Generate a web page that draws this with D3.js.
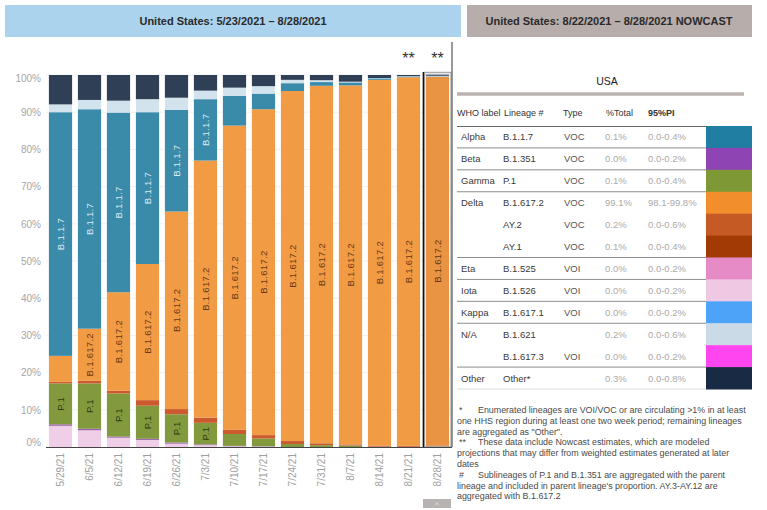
<!DOCTYPE html>
<html>
<head>
<meta charset="utf-8">
<script src="https://cdn.jsdelivr.net/npm/d3@7"></script>
<style>
  body { margin: 0; background: #fff; }
  text { font-family: "Liberation Sans", Arial, sans-serif; }
</style>
</head>
<body>
<div id="chart"></div>
<script>
// variant proportions, weekly, US

var width = 767;
var height = 510;

var weeks = ["5/29/21","6/5/21","6/12/21","6/19/21","6/26/21","7/3/21","7/10/21",
             "7/17/21","7/24/21","7/31/21","8/7/21","8/14/21","8/21/21","8/28/21"];

// % of sequences per week (bottom of stack first)
var iota   = [5.7, 4.5, 2.5, 1.9, 0.9, 0.5, 0.2, 0.1, 0.0, 0.0, 0.0, 0.0, 0.0, 0.0];
var beta   = [0.4, 0.4, 0.3, 0.3, 0.3, 0.2, 0.1, 0.1, 0.0, 0.0, 0.0, 0.0, 0.0, 0.0];
var gamma  = [11.0, 12.2, 11.6, 8.9, 7.6, 5.8, 3.2, 2.1, 0.8, 0.5, 0.4, 0.1, 0.05, 0.1];
var ay     = [0.4, 0.7, 0.7, 1.5, 1.4, 1.4, 1.1, 0.9, 0.8, 0.5, 0.3, 0.3, 0.25, 0.3];
var delta  = [7.0, 14.0, 26.5, 36.6, 53.1, 69.1, 81.8, 87.6, 94.1, 96.1, 96.5, 98.3, 99.1, 99.1];
var alpha  = [65.5, 59.0, 48.3, 40.8, 27.3, 16.5, 8.0, 4.2, 2.1, 1.0, 0.8, 0.4, 0.2, 0.1];
var b1621  = [2.1, 2.5, 3.2, 3.5, 3.3, 2.3, 2.2, 2.0, 0.9, 0.5, 0.2, 0.1, 0.1, 0.2];
var other  = [7.9, 6.7, 6.9, 6.5, 6.1, 4.2, 3.4, 3.0, 1.3, 1.4, 1.8, 0.8, 0.3, 0.3];

var yTicks = [0,10,20,30,40,50,60,70,80,90,100];

// table on the right (nowcast)
var whoLabels = ["Alpha","Beta","Gamma","Delta","","","Eta","Iota","Kappa","N/A","","Other"];
var lineages  = ["B.1.1.7","B.1.351","P.1","B.1.617.2","AY.2","AY.1","B.1.525","B.1.526",
                 "B.1.617.1","B.1.621","B.1.617.3","Other*"];
var types     = ["VOC","VOC","VOC","VOC","VOC","VOC","VOI","VOI","VOI","","VOI",""];
var pctTotal  = ["0.1%","0.0%","0.1%","99.1%","0.2%","0.1%","0.0%","0.0%","0.0%","0.2%","0.0%","0.3%"];
var pi95      = ["0.0-0.4%","0.0-0.2%","0.0-0.4%","98.1-99.8%","0.0-0.6%","0.0-0.4%","0.0-0.2%",
                 "0.0-0.2%","0.0-0.2%","0.0-0.6%","0.0-0.2%","0.0-0.8%"];
var swatches  = ["#1f7ea1","#8e45b3","#7d9834","#f28e2b","#c65a24","#a23a06","#e68bc5",
                 "#efc8e4","#4da3f7","#cadbe7","#ff45ef","#192b44"];
var groupEnds = [0,1,2,5,6,7,8,10,11];

var footnotes = [
  ["*", "Enumerated lineages are VOI/VOC or are circulating >1% in at least"],
  ["", "one HHS region during at least one two week period; remaining lineages"],
  ["", "are aggregated as \"Other\"."],
  ["**", "These data include Nowcast estimates, which are modeled"],
  ["", "projections that may differ from weighted estimates generated at later"],
  ["", "dates"],
  ["#", "Sublineages of P.1 and B.1.351 are aggregated with the parent"],
  ["", "lineage and included in parent lineage's proportion. AY.3-AY.12 are"],
  ["", "aggregated with B.1.617.2"]
];

var keys = ["Iota","Beta","Gamma","AY","Delta","Alpha","B.1.621","Other"];
var barColor = {"Iota":"#f0cee7","Beta":"#9a5fae","Gamma":"#82993d","AY":"#cb5a2f",
                "Delta":"#f29b45","Alpha":"#3a8ba9","B.1.621":"#d3e3ee","Other":"#2e3f56"};
var barLabel = {"Alpha":"B.1.1.7","Delta":"B.1.617.2","Gamma":"P.1"};
var labelColor = {"Alpha":"#dbeaf2","Delta":"#6a3a12","Gamma":"#2e3a12"};

var rows = weeks.map((w,i) => ({week:w, "Iota":iota[i], "Beta":beta[i], "Gamma":gamma[i],
  "AY":ay[i], "Delta":delta[i], "Alpha":alpha[i], "B.1.621":b1621[i], "Other":other[i]}));
var series = d3.stack().keys(keys)(rows);

var svg = d3.select("div#chart")
    .append("svg")
    .attr("width", width)
    .attr("height", height);

// header bands
svg.append("rect").attr("x",5).attr("y",5).attr("width",456).attr("height",32).attr("fill","#abd3ee");
svg.append("rect").attr("x",467).attr("y",5).attr("width",285).attr("height",32).attr("fill","#b7adaa");
svg.append("text").attr("x",233).attr("y",25).attr("text-anchor","middle")
    .attr("font-size",11).attr("font-weight","bold").attr("fill","#2a2a2a")
    .text("United States: 5/23/2021 \u2013 8/28/2021");
svg.append("text").attr("x",609).attr("y",25).attr("text-anchor","middle")
    .attr("font-size",11).attr("font-weight","bold").attr("fill","#2a2a2a")
    .text("United States: 8/22/2021 \u2013 8/28/2021 NOWCAST");

var x = d3.scaleBand().domain(weeks).range([46, 452]).paddingInner(0.2).paddingOuter(0.1);
var y = d3.scaleLinear().domain([0, 100]).range([447, 75]);

// faint gridlines
svg.append("g").selectAll("line").data(yTicks.slice(1)).enter().append("line")
    .attr("x1", 46).attr("x2", 452)
    .attr("y1", d => y(d)).attr("y2", d => y(d))
    .attr("stroke", "#f1f1f1");

// y axis
var yAxis = svg.append("g").attr("transform", "translate(46,0)")
    .call(d3.axisLeft(y).tickValues(yTicks).tickSize(0).tickPadding(5).tickFormat(d => d + "%"));
yAxis.select(".domain").remove();
yAxis.selectAll("text").attr("font-size", 10).attr("fill", "#a6a6a6")
    .attr("font-family", "Liberation Sans, Arial, sans-serif")
    .attr("dy", d => d == 0 ? "-0.15em" : (d == 100 ? "0.62em" : "0.32em"));

// stacked bars
var layers = svg.append("g").selectAll("g").data(series).enter().append("g")
    .attr("fill", d => barColor[d.key]);
layers.selectAll("rect").data(d => d).enter().append("rect")
    .attr("x", d => x(d.data.week))
    .attr("width", x.bandwidth())
    .attr("y", d => y(d[1]))
    .attr("height", d => Math.max(0, y(d[0]) - y(d[1])));

// segment labels, only where they fit
series.filter(s => barLabel[s.key]).forEach(function(s) {
  s.forEach(function(d) {
    var h = y(d[0]) - y(d[1]);
    var cx = x(d.data.week) + x.bandwidth()/2;
    var cy = (y(d[0]) + y(d[1]))/2;
    var t = svg.append("text")
        .attr("transform", "translate(" + cx + "," + cy + ") rotate(-90)")
        .attr("text-anchor", "middle").attr("dominant-baseline", "central")
        .attr("font-size", 9.5).attr("fill", labelColor[s.key])
        .attr("letter-spacing", 0.3)
        .text(barLabel[s.key]);
    if (t.node().getComputedTextLength() + 6 > h) t.remove();
  });
});

// nowcast column
var lastX = x(weeks[weeks.length-1]);
svg.append("rect").attr("x", lastX).attr("y", y(100)).attr("width", x.bandwidth())
    .attr("height", y(0) - y(100)).attr("fill", "#000").attr("opacity", 0.04);
svg.append("rect").attr("x", lastX - 1.5).attr("y", 72.5).attr("width", x.bandwidth() + 3.5)
    .attr("height", 374.5).attr("fill", "none").attr("stroke", "#a9a9a9").attr("stroke-width", 1.5);
svg.append("line").attr("x1", lastX - 2.5).attr("x2", lastX - 2.5).attr("y1", 72).attr("y2", 448)
    .attr("stroke", "#111").attr("stroke-width", 1.5);

// ** marks over nowcast-based weeks
svg.selectAll(".star").data(weeks.slice(-2)).enter().append("text")
    .attr("x", d => x(d) + x.bandwidth()/2).attr("y", 64)
    .attr("text-anchor", "middle").attr("font-size", 16).attr("fill", "#333")
    .text("**");

// x axis
var xAxis = svg.append("g").attr("transform", "translate(0,447)")
    .call(d3.axisBottom(x).tickSize(0).tickPadding(0));
xAxis.select(".domain").attr("stroke", "#444").attr("d", "M46,0.5H452");
xAxis.selectAll("text").attr("font-size", 10).attr("fill", "#a0a0a0")
    .attr("font-family", "Liberation Sans, Arial, sans-serif")
    .attr("transform", "translate(0,6) rotate(-90)")
    .attr("text-anchor", "end").attr("dy", "0.35em").attr("y", 0).attr("x", 0);

// small scroll tab
svg.append("rect").attr("x", 423).attr("y", 499).attr("width", 28).attr("height", 9).attr("fill", "#b8b3b3");
svg.append("text").attr("x", 437).attr("y", 507).attr("text-anchor", "middle")
    .attr("font-size", 8).attr("fill", "#eee").text("^");

// panel divider
svg.append("line").attr("x1", 452).attr("x2", 452).attr("y1", 42).attr("y2", 447)
    .attr("stroke", "#777").attr("stroke-width", 1.5);

// table
var tbl = svg.append("g");
tbl.append("text").attr("x", 607).attr("y", 85).attr("text-anchor", "middle")
    .attr("font-size", 10.5).attr("fill", "#222").text("USA");
tbl.append("line").attr("x1", 457).attr("x2", 744).attr("y1", 94).attr("y2", 94)
    .attr("stroke", "#bab3b0").attr("stroke-width", 3.5);

var cols = [457, 504, 563, 606, 648];
["WHO label","Lineage #","Type","%Total","95%PI"].forEach(function(h, i) {
  tbl.append("text").attr("x", cols[i]).attr("y", 116)
      .attr("font-size", 9).attr("fill", "#333")
      .attr("font-weight", i == 4 ? "bold" : "normal").text(h);
});

var rowY = d3.scaleBand().domain(d3.range(lineages.length)).range([126, 389]);
var rh = rowY.bandwidth();

tbl.selectAll(".sw").data(swatches).enter().append("rect")
    .attr("x", 706).attr("y", (d,i) => rowY(i)).attr("width", 46).attr("height", rh + 0.5)
    .attr("fill", d => d);

tbl.append("line").attr("x1", 457).attr("x2", 706).attr("y1", 126.5).attr("y2", 126.5)
    .attr("stroke", "#666").attr("stroke-width", 1.2);
tbl.selectAll(".div").data(groupEnds).enter().append("line")
    .attr("x1", 457).attr("x2", 706)
    .attr("y1", i => rowY(i) + rh).attr("y2", i => rowY(i) + rh)
    .attr("stroke", i => i == 11 ? "#ddd" : "#8c8c8c").attr("stroke-width", 1);

var cells = [
  {vals: whoLabels, x: 461, fill: "#3a3a3a"},
  {vals: lineages,  x: 503, fill: "#3a3a3a"},
  {vals: types,     x: 564, fill: "#555"},
  {vals: pctTotal,  x: 605, fill: "#aaa"},
  {vals: pi95,      x: 648, fill: "#aaa"}
];
cells.forEach(function(c) {
  tbl.append("g").selectAll("text").data(c.vals).enter().append("text")
      .attr("x", c.x).attr("y", (d,i) => rowY(i) + rh/2 + 3.5)
      .attr("font-size", 9.5).attr("fill", c.fill)
      .text(d => d);
});

// footnotes
var fn = svg.append("g");
footnotes.forEach(function(f, i) {
  var yy = 413 + i*10.8;
  if (f[0]) {
    fn.append("text").attr("x", 459).attr("y", yy).attr("font-size", 8.9).attr("fill", "#4a4a4a").text(f[0]);
    fn.append("text").attr("x", 478).attr("y", yy).attr("font-size", 8.9).attr("fill", "#4a4a4a").text(f[1]);
  } else {
    fn.append("text").attr("x", 457).attr("y", yy).attr("font-size", 8.9).attr("fill", "#4a4a4a").text(f[1]);
  }
});
</script>
</body>
</html>
